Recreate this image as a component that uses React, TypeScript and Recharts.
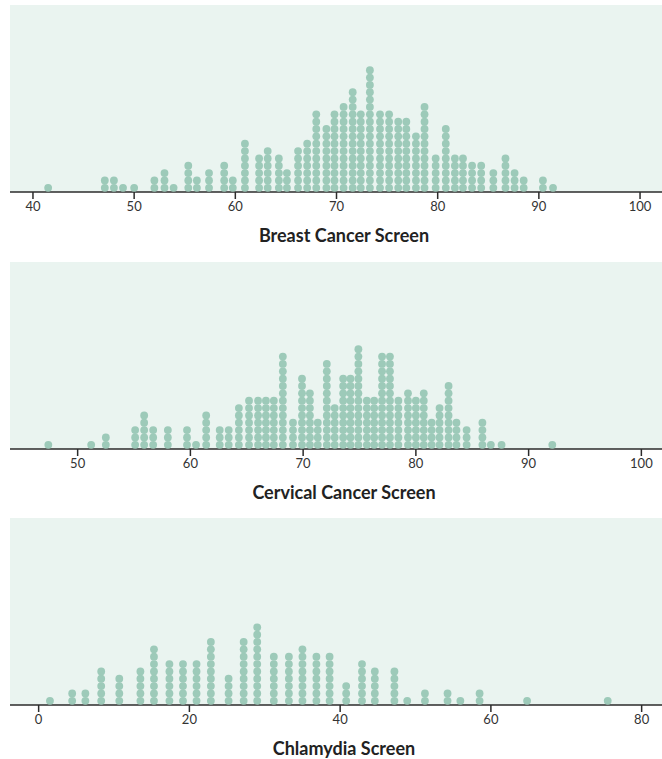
import React from 'react';
import { ScatterChart, Scatter, XAxis, YAxis, CartesianGrid } from 'recharts';

// column positions (bin centres) and number of stacked dots per column
const breastBins = [41.5, 47.1, 48.0, 48.9, 50.0, 52.0, 53.0, 53.9, 55.35, 56.2, 57.4, 58.9, 59.75, 60.95, 62.35, 63.2, 64.3, 65.1, 66.2, 67.1, 68.0, 69.0, 69.8, 70.7, 71.6, 72.4, 73.3, 74.3, 75.2, 76.1, 76.9, 77.85, 78.7, 79.8, 80.8, 81.7, 82.5, 83.4, 84.3, 85.5, 86.7, 87.6, 88.5, 90.4, 91.4];
const breastCounts = [1, 2, 2, 1, 1, 2, 3, 1, 4, 2, 3, 4, 2, 7, 5, 6, 5, 3, 6, 7, 11, 9, 11, 12, 14, 11, 17, 11, 11, 10, 10, 8, 12, 5, 9, 5, 5, 4, 4, 3, 5, 3, 2, 2, 1];
const breastTicks = [40, 50, 60, 70, 80, 90, 100];

const cervicalBins = [47.4, 51.2, 52.5, 55.1, 55.9, 56.7, 58.0, 59.7, 60.5, 61.4, 62.6, 63.4, 64.3, 65.2, 66.0, 66.7, 67.4, 68.2, 69.1, 69.9, 70.6, 71.3, 72.1, 72.8, 73.55, 74.2, 74.9, 75.65, 76.3, 77.0, 77.7, 78.45, 79.3, 80.0, 80.7, 81.4, 82.1, 82.9, 83.6, 84.5, 85.9, 86.65, 87.6, 92.1];
const cervicalCounts = [1, 1, 2, 3, 5, 3, 3, 3, 1, 5, 3, 3, 6, 7, 7, 7, 7, 13, 4, 10, 8, 4, 12, 6, 10, 10, 14, 7, 7, 13, 13, 7, 8, 7, 8, 4, 6, 9, 4, 3, 4, 1, 1, 1];
const cervicalTicks = [50, 60, 70, 80, 90, 100];

const chlamydiaBins = [1.5, 4.45, 6.2, 8.3, 10.7, 13.5, 15.3, 17.35, 19.15, 20.95, 22.85, 25.2, 27.2, 29.0, 31.2, 33.2, 35.0, 36.85, 38.6, 40.8, 42.9, 44.6, 47.2, 48.9, 51.25, 54.25, 55.95, 58.5, 64.8, 75.5];
const chlamydiaCounts = [1, 2, 2, 5, 4, 5, 8, 6, 6, 6, 9, 4, 9, 11, 7, 7, 8, 7, 7, 3, 6, 5, 5, 1, 2, 2, 1, 2, 1, 1];
const chlamydiaTicks = [0, 20, 40, 60, 80];

const BG = '#EAF4F0';
const DOT = '#9DCAB9';
const AXIS = '#2b2b2b';

const Dot = (props: any) => <circle cx={props.cx} cy={props.cy} r={3.9} fill={DOT} />;

interface PanelProps {
    bins: number[];
    counts: number[];
    ticks: number[];
    domain: [number, number];
    title: string;
    top: number;
}

function DotPanel({ bins, counts, ticks, domain, title, top }: PanelProps) {
    const points = bins.flatMap((x, i) => Array.from({ length: counts[i] }, (_, k) => ({ x, y: k })));
    return (
        <div style={{ position: 'absolute', left: 10, top }}>
            <ScatterChart width={652} height={247} margin={{ top: 0, right: 0, bottom: 0, left: 0 }}>
                <CartesianGrid fill={BG} stroke="none" horizontal={false} vertical={false} />
                <XAxis
                    type="number"
                    dataKey="x"
                    domain={domain}
                    allowDataOverflow
                    ticks={ticks}
                    height={60}
                    tickSize={7}
                    tickMargin={3}
                    axisLine={{ stroke: AXIS, strokeWidth: 1.5 }}
                    tickLine={{ stroke: AXIS, strokeWidth: 1.5 }}
                    tick={{ fill: '#333', fontSize: 13, fontFamily: 'Lato' }}
                    label={{
                        value: title,
                        position: 'insideBottom',
                        offset: 10,
                        dx: 8,
                        fill: '#222',
                        fontSize: 18,
                        fontWeight: 700,
                        fontFamily: 'Lato',
                    }}
                />
                <YAxis type="number" dataKey="y" hide domain={[-0.57, 24.87]} allowDataOverflow />
                <Scatter data={points} shape={Dot} isAnimationActive={false} />
            </ScatterChart>
        </div>
    );
}

export default function App() {
    return (
        <div style={{ position: 'absolute', left: 0, top: 0, width: 662, height: 759, overflow: 'hidden', background: '#fff' }}>
            <DotPanel bins={breastBins} counts={breastCounts} ticks={breastTicks} domain={[37.73, 102.17]} title="Breast Cancer Screen" top={5} />
            <DotPanel bins={cervicalBins} counts={cervicalCounts} ticks={cervicalTicks} domain={[44.0, 101.83]} title="Cervical Cancer Screen" top={262} />
            <DotPanel bins={chlamydiaBins} counts={chlamydiaCounts} ticks={chlamydiaTicks} domain={[-3.8, 82.7]} title="Chlamydia Screen" top={518} />
        </div>
    );
}
